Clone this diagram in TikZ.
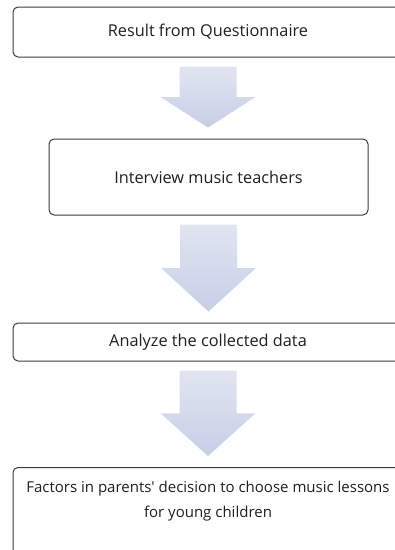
\documentclass[tikz,border=0pt]{standalone}
\usepackage{fontspec}
\setmainfont{Open Sans}
\usetikzlibrary{calc}
\definecolor{flowtop}{HTML}{E1E5F1}
\definecolor{flowbot}{HTML}{C7CEE7}
\definecolor{boxline}{HTML}{3C3C3C}
\tikzset{box/.style={draw=boxline, line width=1pt, rounded corners=5pt, text=black!88, font=\fontsize{16.3}{20}\selectfont}}

\begin{document}
\begin{tikzpicture} [x=1pt,y=-1pt]
\useasboundingbox (0,0) rectangle (395,550);
\clip (0,0) rectangle (395,550);
\node[box, minimum width=390, minimum height=50] (qn) at (208,32) {Result from Questionnaire};
\node[box, minimum width=319, minimum height=76] (iv) at (208.5,177) {Interview music teachers};
\node[box, minimum width=390, minimum height=38] (an) at (208,342) {Analyze the collected data};
\node[box, minimum width=390, minimum height=110, anchor=north] (fa) at (208,467) {};
\node[align=center, text=black!88, font=\fontsize{15}{25}\selectfont] (fatext) at (208,501) {Factors in parents\textquotesingle{} decision to choose music lessons\\for young children};

\foreach \a/\b in {qn/iv, iv/an, an/fa} {
  \shade[top color=flowtop, bottom color=flowbot] let \p1=($(\a.south)+(0,9)$), \p2=($(\b.north)+(0,-11)$), \p3=($(\p1)!.5!(\p2)$) in
    (\x1-28.5pt,\y1) -- (\x1+28.5pt,\y1) -- (\x1+28.5pt,\y3) -- (\x1+47.5pt,\y3) -- (\x1,\y2) -- (\x1-47.5pt,\y3) -- (\x1-28.5pt,\y3) -- cycle;
}
\end{tikzpicture}
\end{document}
